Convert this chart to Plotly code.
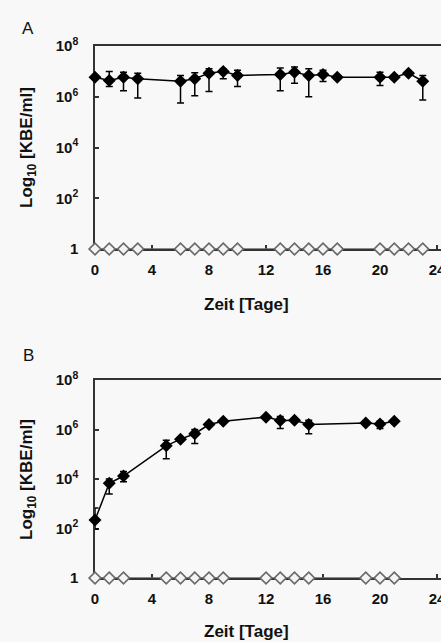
import plotly.graph_objects as go

# ---------------- data (log10 KBE/ml) ----------------
days_a = [0, 1, 2, 3, 6, 7, 8, 9, 10, 13, 14, 15, 16, 17, 20, 21, 22, 23]
log_a = [6.77, 6.64, 6.77, 6.71, 6.61, 6.71, 6.93, 7.00, 6.84, 6.88, 6.97, 6.84, 6.88, 6.77, 6.77, 6.77, 6.93, 6.61]
err_up_a = [0.05, 0.36, 0.20, 0.22, 0.23, 0.24, 0.17, 0.10, 0.20, 0.25, 0.20, 0.26, 0.16, 0.05, 0.20, 0.08, 0.05, 0.23]
err_dn_a = [0.05, 0.24, 0.53, 0.76, 0.86, 0.67, 0.72, 0.29, 0.44, 0.64, 0.44, 0.84, 0.28, 0.05, 0.33, 0.08, 0.05, 0.74]
ctrl_a = [0] * len(days_a)

days_b = [0, 1, 2, 5, 6, 7, 8, 9, 12, 13, 14, 15, 19, 20, 21]
log_b = [2.34, 3.83, 4.12, 5.34, 5.61, 5.83, 6.20, 6.33, 6.50, 6.36, 6.37, 6.20, 6.26, 6.22, 6.33]
err_up_b = [0.49, 0.17, 0.18, 0.23, 0.05, 0.17, 0.05, 0.05, 0.05, 0.17, 0.05, 0.17, 0.05, 0.11, 0.05]
err_dn_b = [0.36, 0.44, 0.23, 0.52, 0.05, 0.40, 0.05, 0.05, 0.05, 0.32, 0.05, 0.37, 0.05, 0.18, 0.05]
ctrl_b = [0] * len(days_b)

x_ticks = [0, 4, 8, 12, 16, 20, 24]
y_ticks = [0, 2, 4, 6, 8]
y_ticktext = ["1", "10<sup>2</sup>", "10<sup>4</sup>", "10<sup>6</sup>", "10<sup>8</sup>"]

# ---------------- layout helpers ----------------
# figure slightly wider than the window: the reference is cropped at the right
W, H = 446, 642
FONT = "Liberation Sans, Arial, sans-serif"
BG = "#f8f8f8"


def px(x):
    return x / W


def py(y):
    return 1 - y / H


fig = go.Figure()


def add_panel(xa, ya, days, vals, up, dn, ctrl):
    fig.add_trace(go.Scatter(
        x=days, y=ctrl, xaxis=xa, yaxis=ya, mode="lines+markers",
        line=dict(color="#6a6a6a", width=1.5),
        marker=dict(symbol="diamond", size=9, color="#f4f4f4",
                    line=dict(color="#6a6a6a", width=1.7)),
        cliponaxis=False, showlegend=False))
    fig.add_trace(go.Scatter(
        x=days, y=vals, xaxis=xa, yaxis=ya, mode="lines+markers",
        line=dict(color="#000000", width=1.5),
        marker=dict(symbol="diamond", size=10, color="#000000"),
        error_y=dict(type="data", symmetric=False, array=up, arrayminus=dn,
                     color="#000000", thickness=1.5, width=3.5),
        cliponaxis=False, showlegend=False))


add_panel("x", "y", days_a, log_a, err_up_a, err_dn_a, ctrl_a)
add_panel("x2", "y2", days_b, log_b, err_up_b, err_dn_b, ctrl_b)

xcommon = dict(range=[0, 24.63], tickvals=x_ticks, showline=True, linecolor="#333333",
               linewidth=1.5, mirror=True, ticks="inside", ticklen=4, tickwidth=1.5,
               tickcolor="#333333", showgrid=False, zeroline=False, automargin=False,
               tickfont=dict(family=FONT, size=15, color="#111111", weight="bold"),
               ticklabelstandoff=6, ticklabeloverflow="allow",
               layer="below traces", domain=[px(95), 1])
ycommon = dict(range=[0, 8], tickvals=y_ticks, ticktext=y_ticktext, showline=True,
               linecolor="#333333", linewidth=1.5, ticks="inside", ticklen=4, tickwidth=1.5,
               tickcolor="#333333", showgrid=False, zeroline=False, automargin=False,
               tickfont=dict(family=FONT, size=15, color="#111111", weight="bold"),
               ticklabelstandoff=12, layer="below traces")

fig.update_layout(
    width=W, height=H, margin=dict(l=0, r=0, t=0, b=0),
    paper_bgcolor=BG, plot_bgcolor=BG,
    xaxis=dict(**xcommon, anchor="y"),
    yaxis=dict(**ycommon, domain=[py(249), py(46)], anchor="x"),
    xaxis2=dict(**xcommon, anchor="y2"),
    yaxis2=dict(**ycommon, domain=[py(578), py(380)], anchor="x2"),
)

ann = []
for label, (lx, ly) in {"A": (28, 29), "B": (28, 356)}.items():
    ann.append(dict(text=label, x=px(lx), y=py(ly), xref="paper", yref="paper",
                    xanchor="center", yanchor="middle", showarrow=False,
                    font=dict(family=FONT, size=17, color="#111111")))
for cy in (148, 480):
    ann.append(dict(text="Log<sub>10</sub> [KBE/ml]", x=px(28), y=py(cy), xref="paper",
                    yref="paper", xanchor="center", yanchor="middle",
                    showarrow=False, textangle=-90,
                    font=dict(family=FONT, size=17, color="#111111", weight="bold")))
for cy in (304, 631):
    ann.append(dict(text="Zeit [Tage]", x=px(246), y=py(cy), xref="paper", yref="paper",
                    xanchor="center", yanchor="middle", showarrow=False,
                    font=dict(family=FONT, size=17, color="#111111", weight="bold")))
fig.update_layout(annotations=ann)

fig.write_html(
    "out.html",
    config={"displayModeBar": False},
    post_script="document.body.style.margin='0';document.body.style.overflow='hidden';",
)
